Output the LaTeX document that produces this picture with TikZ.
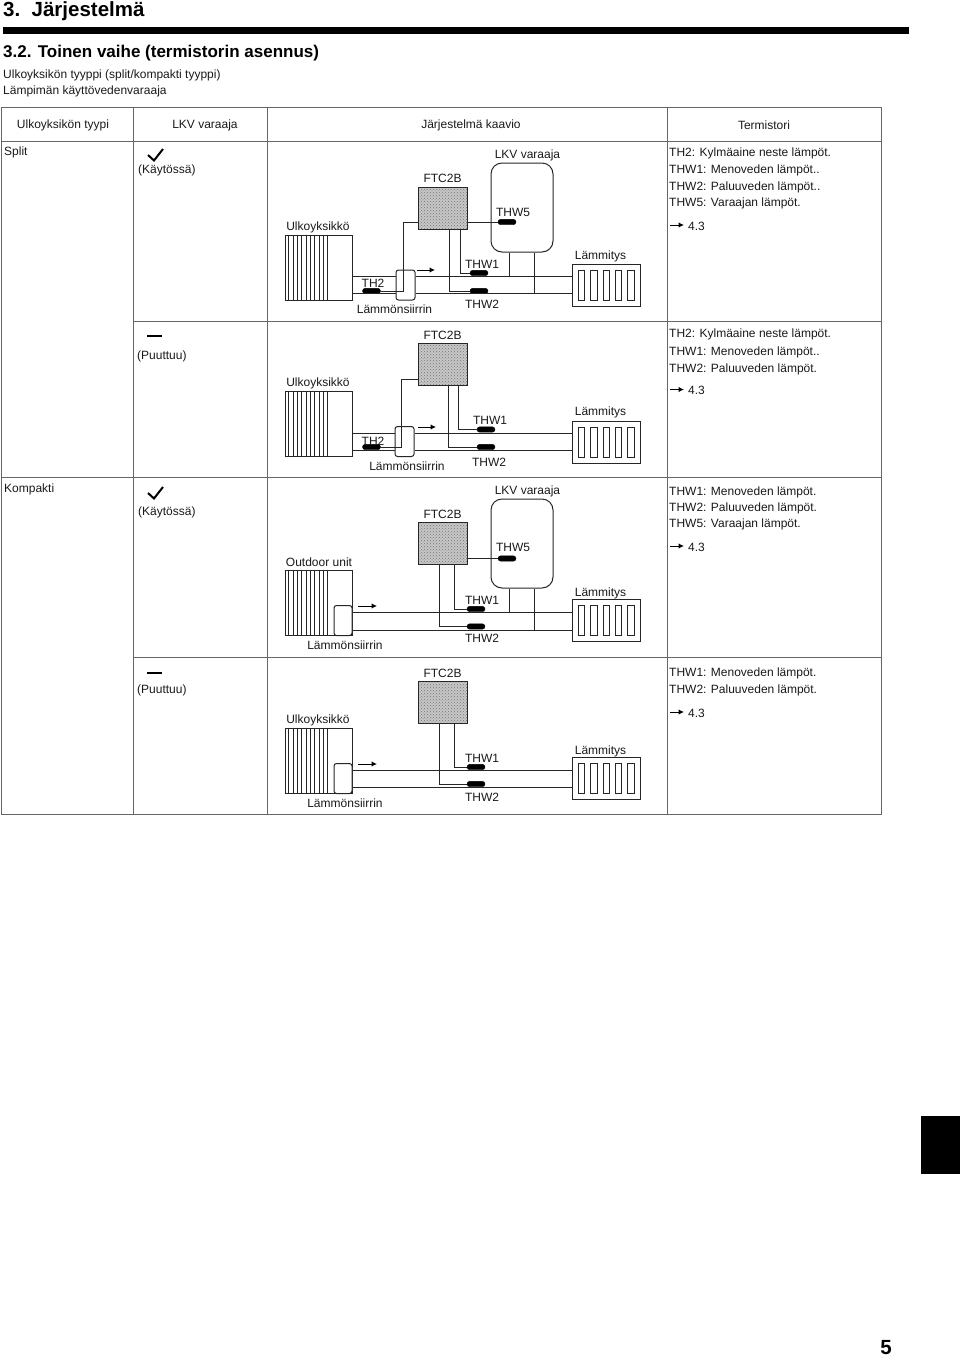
\documentclass[tikz,border=0pt]{standalone}
\usepackage{fontspec}
\setmainfont{Liberation Sans}
\usetikzlibrary{arrows.meta,patterns}

\tikzset{
  plain/.style={inner sep=0pt,yshift=-1pt,font=\fontsize{12}{14}\selectfont,text=black!90},
  leftnote/.style={plain,anchor=west},
  pipe/.style={draw=black!85,line width=1pt},
  tabline/.style={draw=black!60,line width=1pt},
  tick/.style={draw=black,line width=2pt},
  sensor/.style={draw=black,fill=black,rounded corners=2.7pt,inner sep=0pt,
    minimum width=18pt,minimum height=5.4pt},
  outunit/.style={pipe,inner sep=0pt,minimum width=67pt,minimum height=65pt},
  exchanger/.style={pipe,fill=white,rounded corners=2.5pt,inner sep=0pt,
    minimum width=19pt,minimum height=30pt},
  ftcbox/.style={pipe,preaction={fill=black!22},pattern=crosshatch dots,pattern color=black!55,
    inner sep=0pt,minimum width=49pt,minimum height=42pt},
  tankbox/.style={pipe,rounded corners=11pt,inner sep=0pt,minimum width=62pt,minimum height=89pt},
  heater/.style={pipe,inner sep=0pt,minimum width=68pt,minimum height=42pt},
  rib/.style={pipe,inner sep=0pt,minimum width=6.5pt,minimum height=30pt},
  flow/.style={-{Latex[length=5.5pt,width=5.5pt]},draw=black,line width=1pt},
}

% fins of the outdoor unit
\newcommand{\finlines}{
  \foreach \i in {1,...,10}
    \draw[pipe] ([xshift=\i*4.33pt]unit.north west) -- ([xshift=\i*4.33pt]unit.south west);
}
% radiator panels
\newcommand{\heaterribs}{
  \foreach \i/\xx in {1/581.5,2/594,3/606.5,4/618.5,5/631}
    \node[rib] (rib\i) at (\xx,0 |- heat.center) {};
}

\begin{document}
\begin{tikzpicture}[x=1pt,y=-1pt]
  \useasboundingbox (0,0) rectangle (960,1358);

  % page head
  \node[anchor=west,inner sep=0pt,font=\fontsize{20.5}{24}\bfseries\selectfont] (chapter) at (3,11) {3.\ \ Järjestelmä};
  \node[anchor=west,inner sep=0pt,fill=black,minimum width=906pt,minimum height=7pt] (headbar) at (3,30.5) {};
  \node[anchor=west,inner sep=0pt,font=\fontsize{17}{20}\bfseries\selectfont] (section) at (3,53.5) {3.2. Toinen vaihe (termistorin asennus)};
  \node[leftnote] (subone) at (3,74) {Ulkoyksikön tyyppi (split/kompakti tyyppi)};
  \node[leftnote] (subtwo) at (3,90) {Lämpimän käyttövedenvaraaja};

  % table
  \coordinate (tabnw) at (1,107);
  \coordinate (tabse) at (881,814);
  \draw[tabline] (tabnw) rectangle (tabse);
  \foreach \yy in {141,477}
    \draw[tabline] (1,\yy) -- (881,\yy);
  \foreach \yy in {321,657}
    \draw[tabline] (133,\yy) -- (881,\yy);
  \foreach \xx in {133,267,667}
    \draw[tabline] (\xx,107) -- (\xx,814);

  \node[plain] (headtype) at (63,124.5) {Ulkoyksikön tyypi};
  \node[plain] (headtank) at (205,124.5) {LKV varaaja};
  \node[plain] (headplan) at (471,124.5) {Järjestelmä kaavio};
  \node[plain] (headterm) at (764,124.5) {Termistori};
  \node[leftnote] (split) at (4,151.5) {Split};
  \node[leftnote] (kompakti) at (4,488) {Kompakti};

  % tank column
  \draw[tick] (148,155) -- (154,160.5) -- (163,149);
  \node[leftnote] (useone) at (138,169) {(Käytössä)};
  \draw[tick] (147,335.5) -- (162,335.5);
  \node[leftnote] (noneone) at (137,355) {(Puuttuu)};
  \draw[tick] (148,493) -- (154,498.5) -- (163,487);
  \node[leftnote] (usetwo) at (138,511) {(Käytössä)};
  \draw[tick] (147,672.5) -- (162,672.5);
  \node[leftnote] (nonetwo) at (137,689) {(Puuttuu)};

  % thermistor column
  \node[leftnote] (terma) at (669,152) {TH2: Kylmäaine neste lämpöt.};
  \node[leftnote] (termb) at (669,169) {THW1: Menoveden lämpöt..};
  \node[leftnote] (termc) at (669,186) {THW2: Paluuveden lämpöt..};
  \node[leftnote] (termd) at (669,202.5) {THW5: Varaajan lämpöt.};
  \node[leftnote] (terme) at (688,225) {4.3};
  \node[leftnote] (termf) at (669,333.5) {TH2: Kylmäaine neste lämpöt.};
  \node[leftnote] (termg) at (669,351) {THW1: Menoveden lämpöt..};
  \node[leftnote] (termh) at (669,368.5) {THW2: Paluuveden lämpöt.};
  \node[leftnote] (termi) at (688,389.5) {4.3};
  \node[leftnote] (termj) at (669,491) {THW1: Menoveden lämpöt.};
  \node[leftnote] (termk) at (669,507) {THW2: Paluuveden lämpöt.};
  \node[leftnote] (terml) at (669,523.5) {THW5: Varaajan lämpöt.};
  \node[leftnote] (termm) at (688,546) {4.3};
  \node[leftnote] (termn) at (669,672.5) {THW1: Menoveden lämpöt.};
  \node[leftnote] (termo) at (669,689.5) {THW2: Paluuveden lämpöt.};
  \node[leftnote] (termp) at (688,712) {4.3};
  \foreach \nn in {terme,termi,termm,termp}
    \draw[flow] ([xshift=-18pt,yshift=1pt]\nn.west) -- ([xshift=-4pt,yshift=1pt]\nn.west);

  % split with tank
  \begin{scope}[name prefix=a]
    \node[outunit] (unit) at (318.5,267.5) {};
    \finlines
    \node[exchanger] (hx) at (405.5,285) {};
    \node[ftcbox] (ftc) at (442.5,208) {};
    \node[tankbox] (tank) at (522,207.5) {};
    \node[heater] (heat) at (606,285) {};
    \heaterribs
    \node[sensor] (th) at (371.5,291) {};
    \node[sensor] (thwone) at (479,273) {};
    \node[sensor] (thwtwo) at (479,291) {};
    \node[sensor] (thwfive) at (507,222) {};
    \coordinate (up) at (0,276);
    \coordinate (lo) at (0,293);
    \coordinate (bend) at (403,222);
    \coordinate (teeone) at (509,276);
    \coordinate (teetwo) at (534,293);
    \draw[pipe] (unit.east |- up) -- (hx.west |- up);
    \draw[pipe] (unit.east |- lo) -- (hx.west |- lo);
    \draw[pipe] (hx.east |- up) -- (heat.west |- up);
    \draw[pipe] (hx.east |- lo) -- (heat.west |- lo);
    \draw[pipe] (th.east) -| (bend) -- (ftc.west |- bend);
    \draw[pipe] (ftc.south -| 460,0) |- (thwone.west);
    \draw[pipe] (ftc.south -| 449,0) |- (thwtwo.west);
    \draw[pipe] (ftc.east |- thwfive) -- (thwfive.west);
    \draw[pipe] (teeone |- tank.south) -- (teeone);
    \draw[pipe] (teetwo |- tank.south) -- (teetwo);
    \draw[flow] (417,270) -- (435,270);
    \node[plain] (ulabel) at (318,226) {Ulkoyksikkö};
    \node[plain] (hxlabel) at (394.5,308.5) {Lämmönsiirrin};
    \node[plain] (ftclabel) at (442.5,177.5) {FTC2B};
    \node[plain] (tanklabel) at (527.5,154) {LKV varaaja};
    \node[plain] (thlabel) at (373,282) {TH2};
    \node[plain] (onelabel) at (482,263) {THW1};
    \node[plain] (twolabel) at (482,303) {THW2};
    \node[plain] (fivelabel) at (513,211) {THW5};
    \node[plain] (heatlabel) at (600.5,255.5) {Lämmitys};
  \end{scope}

  % split without tank
  \begin{scope}[name prefix=b]
    \node[outunit] (unit) at (318.5,424) {};
    \finlines
    \node[exchanger] (hx) at (404.5,441.5) {};
    \node[ftcbox] (ftc) at (442.5,364.5) {};
    \node[heater] (heat) at (606,442) {};
    \heaterribs
    \node[sensor] (th) at (371.5,447) {};
    \node[sensor] (thwone) at (486,429.5) {};
    \node[sensor] (thwtwo) at (486,447) {};
    \coordinate (up) at (0,433);
    \coordinate (lo) at (0,450);
    \coordinate (bend) at (401,379);
    \draw[pipe] (unit.east |- up) -- (hx.west |- up);
    \draw[pipe] (unit.east |- lo) -- (hx.west |- lo);
    \draw[pipe] (hx.east |- up) -- (heat.west |- up);
    \draw[pipe] (hx.east |- lo) -- (heat.west |- lo);
    \draw[pipe] (th.east) -| (bend) -- (ftc.west |- bend);
    \draw[pipe] (ftc.south -| 458,0) |- (thwone.west);
    \draw[pipe] (ftc.south -| 448,0) |- (thwtwo.west);
    \draw[flow] (418,427) -- (436,427);
    \node[plain] (ulabel) at (318,382) {Ulkoyksikkö};
    \node[plain] (hxlabel) at (407,465) {Lämmönsiirrin};
    \node[plain] (ftclabel) at (442.5,334.5) {FTC2B};
    \node[plain] (thlabel) at (373,440) {TH2};
    \node[plain] (onelabel) at (490,419) {THW1};
    \node[plain] (twolabel) at (489,461) {THW2};
    \node[plain] (heatlabel) at (600.5,411.5) {Lämmitys};
  \end{scope}

  % kompakti with tank
  \begin{scope}[name prefix=c]
    \node[outunit] (unit) at (318.5,602.5) {};
    \finlines
    \node[exchanger,minimum width=18pt] (hx) at (343,620.5) {};
    \node[ftcbox] (ftc) at (442.5,543.5) {};
    \node[tankbox] (tank) at (522,543.5) {};
    \node[heater] (heat) at (606,620.5) {};
    \heaterribs
    \node[sensor] (thwone) at (476,609) {};
    \node[sensor] (thwtwo) at (476,626.5) {};
    \node[sensor] (thwfive) at (507,558.5) {};
    \coordinate (up) at (0,612);
    \coordinate (lo) at (0,630);
    \coordinate (teeone) at (509,612);
    \coordinate (teetwo) at (534,630);
    \draw[pipe] (unit.east |- up) -- (heat.west |- up);
    \draw[pipe] (unit.east |- lo) -- (heat.west |- lo);
    \draw[pipe] (ftc.south -| 454,0) |- (thwone.west);
    \draw[pipe] (ftc.south -| 439,0) |- (thwtwo.west);
    \draw[pipe] (ftc.east |- thwfive) -- (thwfive.west);
    \draw[pipe] (teeone |- tank.south) -- (teeone);
    \draw[pipe] (teetwo |- tank.south) -- (teetwo);
    \draw[flow] (358,606) -- (377,606);
    \node[plain] (ulabel) at (319,561) {Outdoor unit};
    \node[plain] (hxlabel) at (345,644.5) {Lämmönsiirrin};
    \node[plain] (ftclabel) at (442.5,513.5) {FTC2B};
    \node[plain] (tanklabel) at (527.5,490) {LKV varaaja};
    \node[plain] (onelabel) at (482,599) {THW1};
    \node[plain] (twolabel) at (482,637) {THW2};
    \node[plain] (fivelabel) at (513,546) {THW5};
    \node[plain] (heatlabel) at (600.5,592) {Lämmitys};
  \end{scope}

  % kompakti without tank
  \begin{scope}[name prefix=d]
    \node[outunit] (unit) at (318.5,760.5) {};
    \finlines
    \node[exchanger,minimum width=18pt] (hx) at (343,778.5) {};
    \node[ftcbox] (ftc) at (442.5,702) {};
    \node[heater] (heat) at (606,778.5) {};
    \heaterribs
    \node[sensor] (thwone) at (476,767) {};
    \node[sensor] (thwtwo) at (476,784) {};
    \coordinate (up) at (0,770);
    \coordinate (lo) at (0,787);
    \draw[pipe] (unit.east |- up) -- (heat.west |- up);
    \draw[pipe] (unit.east |- lo) -- (heat.west |- lo);
    \draw[pipe] (ftc.south -| 454,0) |- (thwone.west);
    \draw[pipe] (ftc.south -| 439,0) |- (thwtwo.west);
    \draw[flow] (358,764) -- (377,764);
    \node[plain] (ulabel) at (318,719) {Ulkoyksikkö};
    \node[plain] (hxlabel) at (345,802) {Lämmönsiirrin};
    \node[plain] (ftclabel) at (442.5,672) {FTC2B};
    \node[plain] (onelabel) at (482,757) {THW1};
    \node[plain] (twolabel) at (482,796) {THW2};
    \node[plain] (heatlabel) at (600.5,750) {Lämmitys};
  \end{scope}

  % page foot
  \node[anchor=north west,inner sep=0pt,fill=black,minimum width=39pt,minimum height=58pt] (sidetab) at (921,1116) {};
  \node[inner sep=0pt,font=\fontsize{20.5}{24}\bfseries\selectfont] (pagenum) at (886,1348) {5};
\end{tikzpicture}
\end{document}
